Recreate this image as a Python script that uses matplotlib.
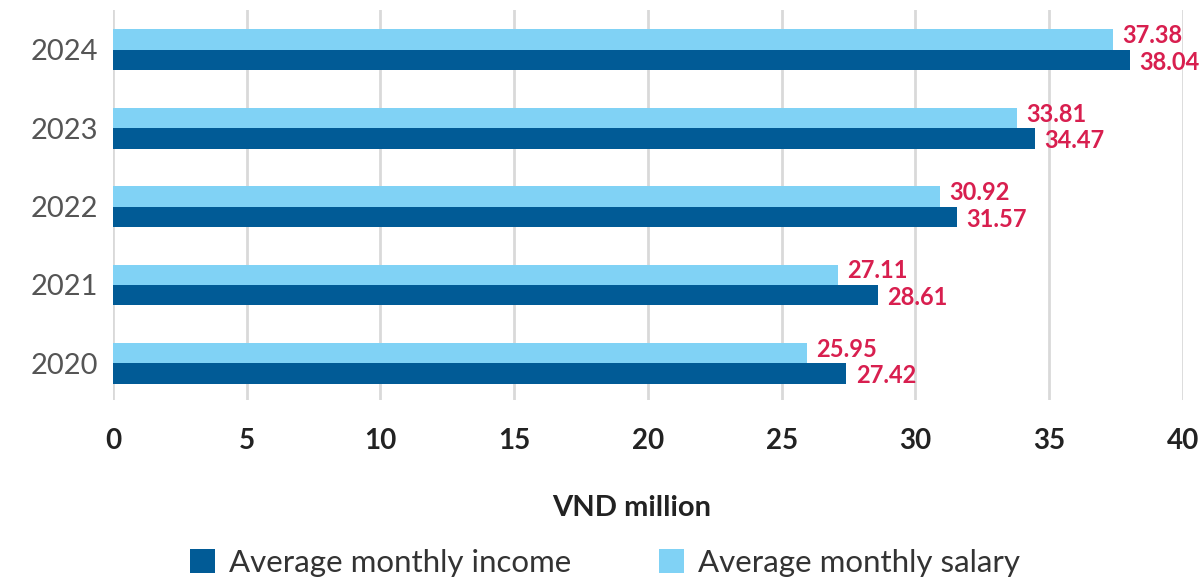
import matplotlib.pyplot as plt
import numpy as np

years = ['2020', '2021', '2022', '2023', '2024']
income = [27.42, 28.61, 31.57, 34.47, 38.04]
salary = [25.95, 27.11, 30.92, 33.81, 37.38]

dark_blue = '#015b96'
light_blue = '#80d2f5'
label_red = '#d81f4f'

plt.rcParams['font.family'] = ['Lato', 'DejaVu Sans']

fig = plt.figure(figsize=(12.02, 5.79), dpi=100)
ax = fig.add_axes([0.094, 0.309, 0.890, 0.674])

y = np.arange(len(years))
h = 0.26
ax.barh(y - h / 2, income, height=h, color=dark_blue, label='Average monthly income', zorder=3)
ax.barh(y + h / 2, salary, height=h, color=light_blue, label='Average monthly salary', zorder=3)

# value labels
for i in range(len(years)):
    ax.text(salary[i] + 0.35, y[i] + h / 2 + 0.05, f'{salary[i]:.2f}', va='center', ha='left',
            color=label_red, fontsize=17, fontweight='bold')
    ax.text(income[i] + 0.35, y[i] - h / 2 - 0.03, f'{income[i]:.2f}', va='center', ha='left',
            color=label_red, fontsize=17, fontweight='bold')

ax.set_xlim(0, 40)
ax.set_ylim(-0.47, 4.51)
ax.set_xticks(range(0, 41, 5))
ax.set_yticks(y)
ax.set_yticklabels(years)
ax.grid(axis='x', color='#d9d9d9', linewidth=2, zorder=0)
ax.grid(axis='y', visible=False)
for s in ax.spines.values():
    s.set_visible(False)
ax.tick_params(axis='both', length=0)
ax.tick_params(axis='x', labelsize=20, labelcolor='#222222', pad=20)
ax.tick_params(axis='y', labelsize=21, labelcolor='#555555', pad=11)
for t in ax.get_xticklabels():
    t.set_fontweight('bold')

fig.text(632 / 1202, 1 - 508 / 579, 'VND million', ha='center', va='center',
         fontsize=21, fontweight='bold', color='#222222')

handles, labels = ax.get_legend_handles_labels()
fig.legend(handles, labels, loc='center', bbox_to_anchor=(605 / 1202, 1 - 563 / 579), ncol=2,
           frameon=False, fontsize=22.5, labelcolor='#333333', handlelength=0.8, handleheight=0.8,
           columnspacing=2.8, handletextpad=0.45, borderpad=0)

fig.savefig('out.png', dpi=100)
